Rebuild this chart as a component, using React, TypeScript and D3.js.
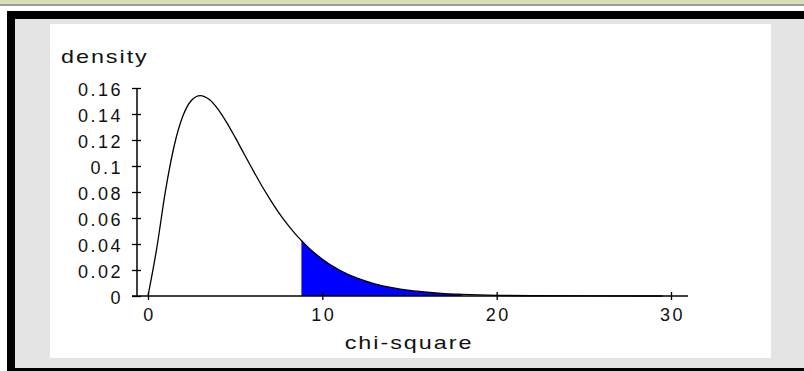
import React, { useEffect, useRef } from 'react';
import * as d3 from 'd3';

// chi-square values and their density
const chiValues = [0, 0.5, 1, 1.5, 2, 2.5, 3, 3.5, 4, 4.5, 5, 5.5, 6, 6.5, 7, 7.5, 8, 8.5, 8.8, 9, 9.5, 10, 11, 12, 13, 14, 15, 16, 17, 18, 20, 22, 25, 29.5];
const densityValues = [0, 0.0366, 0.0807, 0.1154, 0.1384, 0.1506, 0.1542, 0.1513, 0.144, 0.1338, 0.122, 0.1096, 0.0973, 0.0854, 0.0744, 0.0642, 0.0551, 0.047, 0.0427, 0.0399, 0.0337, 0.0283, 0.0198, 0.0137, 0.0094, 0.0064, 0.0043, 0.0029, 0.0019, 0.0013, 0.0005, 0.0002, 0.0001, 0];

const shadeFrom = 8.8;
const shadeTo = 18;

const xTicks = [0, 10, 20, 30];
const yTicks = [0, 0.02, 0.04, 0.06, 0.08, 0.1, 0.12, 0.14, 0.16];
const yTickLabels = ['0', '0.02', '0.04', '0.06', '0.08', '0.1', '0.12', '0.14', '0.16'];

const font = '"Liberation Sans", Arial, sans-serif';

const App = () => {
  const chartRef = useRef<SVGSVGElement>(null);

  useEffect(() => {
    const svg = d3.select(chartRef.current);
    svg.selectAll('*').remove();

    // page frame
    svg.append('rect').attr('x', 0).attr('y', 0).attr('width', 804).attr('height', 371).attr('fill', '#ffffff');
    svg.append('rect').attr('x', 0).attr('y', 0).attr('width', 804).attr('height', 4).attr('fill', '#d5deb7');
    svg.append('rect').attr('x', 0).attr('y', 4).attr('width', 804).attr('height', 2).attr('fill', '#9b9b9b');
    svg.append('rect').attr('x', 7).attr('y', 11).attr('width', 797).attr('height', 360).attr('fill', '#000000');
    svg.append('rect').attr('x', 15).attr('y', 19).attr('width', 789).attr('height', 349).attr('fill', '#e4e4e4');
    svg.append('rect').attr('x', 50).attr('y', 24).attr('width', 721).attr('height', 334).attr('fill', '#ffffff');

    const x = d3.scaleLinear().domain([0, 30]).range([148, 671]);
    const y = d3.scaleLinear().domain([0, 0.16]).range([296, 88]);

    const points = chiValues.map((c, i) => [c, densityValues[i]] as [number, number]);
    const shaded = points.filter(p => p[0] >= shadeFrom && p[0] <= shadeTo);

    const area = d3.area<[number, number]>()
      .x(d => x(d[0]))
      .y0(y(0))
      .y1(d => y(d[1]))
      .curve(d3.curveMonotoneX);

    svg.append('path')
      .datum(shaded)
      .attr('d', area)
      .attr('fill', '#0000ff');

    // axes
    const xAxis = svg.append('g')
      .attr('transform', `translate(0,${y(0)})`)
      .call(d3.axisBottom(x).tickValues(xTicks).tickSize(5).tickSizeOuter(0).tickFormat(d => String(d)));
    xAxis.select('.domain').remove();
    xAxis.append('line').attr('x1', 132).attr('x2', 688).attr('stroke', '#000').attr('stroke-width', 1.5);
    xAxis.selectAll('.tick line').attr('y1', -4).attr('y2', 4).attr('stroke-width', 1.3);
    xAxis.selectAll('.tick text')
      .attr('y', 12)
      .attr('dy', '0.71em')
      .attr('dx', '1px')
      .style('font-family', font)
      .style('font-size', '18px')
      .style('letter-spacing', '2.5px')
      .attr('fill', '#111');

    const yAxis = svg.append('g')
      .attr('transform', `translate(137,0)`)
      .call(d3.axisLeft(y).tickValues(yTicks).tickSize(5).tickSizeOuter(0).tickFormat((d, i) => yTickLabels[i]));
    yAxis.select('.domain').remove();
    yAxis.append('line').attr('y1', y(0.16)).attr('y2', y(0)).attr('stroke', '#000').attr('stroke-width', 1.5);
    yAxis.selectAll('.tick line').attr('x1', -5).attr('x2', 4).attr('stroke-width', 1.3);
    yAxis.selectAll('.tick text')
      .attr('x', -14)
      .attr('dy', '0.42em')
      .style('font-family', font)
      .style('font-size', '18px')
      .style('letter-spacing', '2.5px')
      .attr('fill', '#111');

    const line = d3.line<[number, number]>()
      .x(d => x(d[0]))
      .y(d => y(d[1]))
      .curve(d3.curveMonotoneX);

    svg.append('path')
      .datum(points)
      .attr('d', line)
      .attr('fill', 'none')
      .attr('stroke', '#000')
      .attr('stroke-width', 1.3);

    svg.append('text')
      .attr('transform', 'translate(61,63) scale(1.3,1)')
      .style('font-family', font)
      .style('font-size', '18px')
      .style('letter-spacing', '1.5px')
      .attr('fill', '#111')
      .text('density');

    svg.append('text')
      .attr('transform', 'translate(409,349) scale(1.3,1)')
      .style('text-anchor', 'middle')
      .style('font-family', font)
      .style('font-size', '18px')
      .style('letter-spacing', '1.5px')
      .attr('fill', '#111')
      .text('chi-square');
  }, []);

  return (
    <svg ref={chartRef} width={804} height={371} style={{ position: 'absolute', left: 0, top: 0, display: 'block' }}></svg>
  );
};

export default App;
